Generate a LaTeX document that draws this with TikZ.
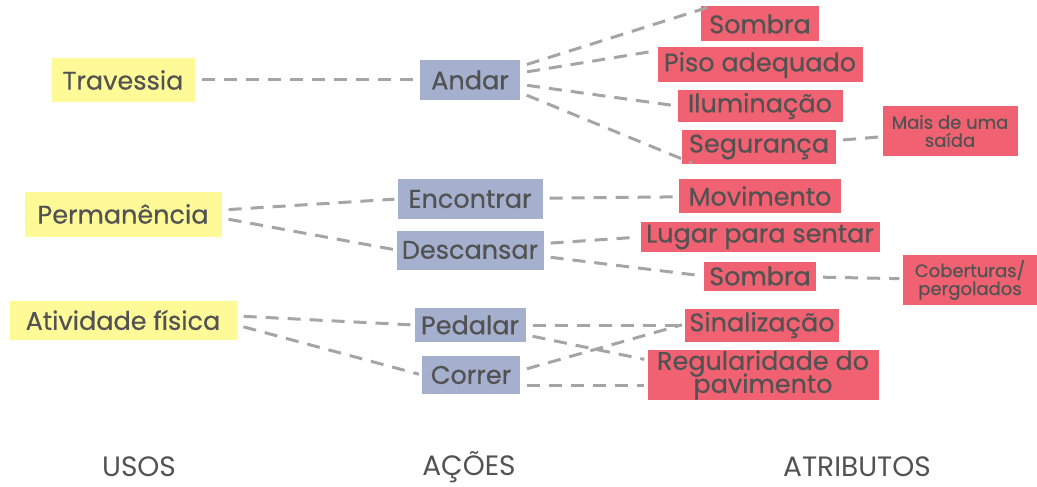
\documentclass[tikz,border=0pt]{standalone}
\usepackage{fontspec}
\setmainfont{Poppins}
\newfontfamily\boxfont{Poppins}[FakeBold=0.5]
\newcommand\tightlines{\lineskiplimit=-30pt\relax}
\definecolor{usoyel}{RGB}{255,250,152}
\definecolor{acaoblue}{RGB}{165,175,206}
\definecolor{atribred}{RGB}{240,98,114}
\definecolor{txtgray}{RGB}{82,82,82}
\definecolor{linegray}{RGB}{165,165,165}

\tikzset{
  box/.style={inner sep=0pt,text=txtgray,font=\boxfont\fontsize{25.5}{25}\selectfont},
  uso/.style={box,fill=usoyel},
  acao/.style={box,fill=acaoblue},
  atrib/.style={box,fill=atribred},
  extra/.style={box,fill=atribred,align=center,font=\boxfont\fontsize{18}{18}\selectfont},
  link/.style={draw=linegray,line width=3pt,dash pattern=on 13pt off 9pt,
    shorten <=7pt,shorten >=3pt},
  coltitle/.style={text=txtgray,font=\fontsize{28}{28}\selectfont},
}

\begin{document}
\begin{tikzpicture}[x=1pt,y=-1pt,line cap=butt]
  \useasboundingbox (0,0) rectangle (1037,487);

  % usos
  \node[uso,minimum width=143pt,minimum height=44pt] (trav) at (123,80) {Travessia};
  \node[uso,minimum width=197pt,minimum height=45pt] (perm) at (123,214) {Permanência};
  \node[uso,minimum width=227pt,minimum height=39pt] (ativ) at (123,320) {Atividade física};

  % acoes
  \node[acao,minimum width=100pt,minimum height=40pt] (andar) at (470,80) {Andar};
  \node[acao,minimum width=145pt,minimum height=40pt] (encon) at (470,199) {Encontrar};
  \node[acao,minimum width=147pt,minimum height=39pt] (desc) at (470,250) {Descansar};
  \node[acao,minimum width=111pt,minimum height=34pt] (pedal) at (470,325) {Pedalar};
  \node[acao,minimum width=98pt,minimum height=38pt] (corr) at (471,375) {Correr};

  % atributos
  \node[atrib,minimum width=118pt,minimum height=35pt] (sombra) at (760,24) {Sombra};
  \node[atrib,minimum width=205pt,minimum height=35pt] (piso) at (760,65) {Piso adequado};
  \node[atrib,minimum width=165pt,minimum height=32pt] (ilum) at (760,106) {Iluminação};
  \node[atrib,minimum width=154pt,minimum height=34pt] (segur) at (759,147) {Segurança};
  \node[atrib,minimum width=162pt,minimum height=34pt] (movim) at (760,196) {Movimento};
  \node[atrib,minimum width=239pt,minimum height=30pt] (lugar) at (760,237) {Lugar para sentar};
  \node[atrib,minimum width=112pt,minimum height=29pt] (sombrab) at (760,276) {Sombra};
  \node[atrib,minimum width=154pt,minimum height=33pt] (sinal) at (762,325) {Sinalização};
  \node[atrib,minimum width=231pt,minimum height=50pt,align=center,
    font=\boxfont\fontsize{25.5}{23}\selectfont\tightlines] (regul) at (763,375) {Regularidade do\\pavimento};

  \node[extra,minimum width=135pt,minimum height=49pt] (saida) at (950,131) {Mais de uma\\saída};
  \node[extra,minimum width=135pt,minimum height=50pt] (cobert) at (970,280) {Coberturas/\\pergolados};

  % ligacoes
  \draw[link] (trav) -- (andar);
  \draw[link] (perm.east) ++(0,-4) -- (encon.west);
  \draw[link] (perm.east) ++(0,4) -- (desc.west);
  \draw[link] (ativ.east) ++(0,-4) -- (pedal.west);
  \draw[link] (ativ.east) ++(0,5) -- (corr.west);

  \draw[link] (andar.15) -- (sombra.160);
  \draw[link] (andar.8) -- (piso.172);
  \draw[link] (andar.-5) -- (ilum.west);
  \draw[link] (andar.-14) -- (segur.195);
  \draw[link] (segur) -- (saida);

  \draw[link] (encon) -- (movim);
  \draw[link] (desc.5) -- (lugar.west);
  \draw[link] (desc.-5) -- (sombrab.west);
  \draw[link] (sombrab) -- (cobert);

  \draw[link] (pedal) -- (sinal);
  \draw[link] (pedal.-10) -- ([yshift=15pt]regul.west);
  \draw[link] (corr.5) -- ([yshift=1pt]sinal.west);
  \draw[link] (corr.-12) -- (regul.west |- corr.-12);

  % titulos
  \node[coltitle] (usos) at (139,467) {USOS};
  \node[coltitle] (acoes) at (469,467) {AÇÕES};
  \node[coltitle] (atrib) at (857,467) {ATRIBUTOS};
\end{tikzpicture}
\end{document}
